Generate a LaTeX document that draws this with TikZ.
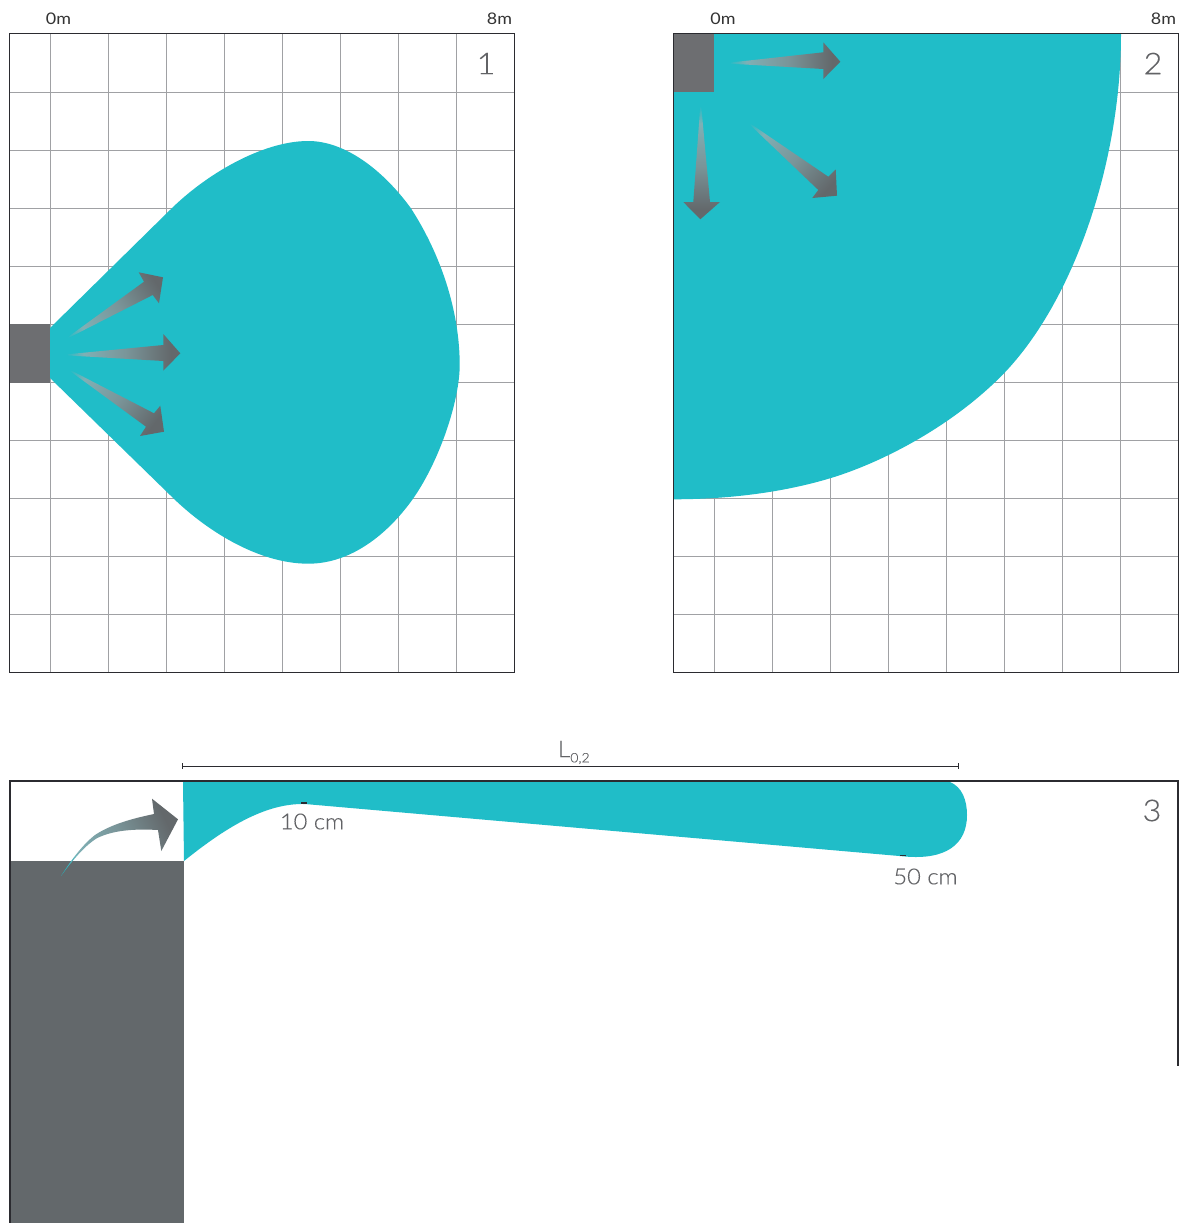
\documentclass[tikz,border=0pt]{standalone}
\usepackage{fontspec}
\setmainfont{Lato}
\newfontfamily\lightf[FakeStretch=1.08,FakeBold=0.25]{Lato Light}
\newfontfamily\regf[FakeStretch=1.12]{Lato}
\definecolor{teal1}{HTML}{20BDC8}
\definecolor{gray1}{HTML}{6D6E71}
\definecolor{gray2}{HTML}{63686B}
\definecolor{tmida}{HTML}{7FB0B5}
\definecolor{tmidb}{HTML}{7A9599}
\definecolor{gridc}{HTML}{A0A1A4}
\definecolor{framec}{HTML}{2B2B30}
\definecolor{txt}{HTML}{626366}
\pgfdeclarehorizontalshading{arrowgrad}{100bp}{color(0bp)=(teal1); color(27bp)=(teal1); color(33bp)=(tmida); color(47bp)=(tmidb); color(62bp)=(gray2); color(100bp)=(gray2)}
\newcommand{\gradarrow}[4]{%
  \begin{scope}
    \clip #1;
    \begin{scope}[transform canvas={shift={#2},rotate=#3}]
      \shade[shading=arrowgrad] (0,-90) rectangle (#4,90);
    \end{scope}
  \end{scope}}
\tikzset{
  gridline/.style={draw=gridc,line width=0.9pt},
  frameline/.style={draw=framec,line width=1pt},
  beam/.style={fill=teal1,draw=none},
  box/.style={fill=gray1,draw=none},
  scalelabel/.style={font=\regf\fontsize{16}{16}\selectfont,text=black!80,inner sep=0pt},
  panelno/.style={font=\lightf\fontsize{30}{30}\selectfont,text=txt,inner sep=0pt},
  dimlabel/.style={font=\lightf\fontsize{22}{22}\selectfont,text=txt,inner sep=0pt},
}
\begin{document}
\begin{tikzpicture}[x=1pt,y=-1pt]
\useasboundingbox (0,0) rectangle (1182,1223);
\fill[white] (0,0) rectangle (1182,1223);
% panel 1 grid
\foreach \x in {50,108,166,224,282,340,398.5,456.5}
  \draw[gridline] (\x,34) -- (\x,672.5);
\foreach \y in {92,150,208,266,324,382.5,440.5,498.5,556.5,614.5}
  \draw[gridline] (9,\y) -- (514.5,\y);
% panel 2 grid
\foreach \x in {714,772,830,888,946.5,1004.5,1062.5,1120.5}
  \draw[gridline] (\x,34) -- (\x,672.5);
\foreach \y in {92,150,208,266,324,382.5,440.5,498.5,556.5,614.5}
  \draw[gridline] (673,\y) -- (1178.5,\y);
% beam 1
\fill[beam] (50,328) -- (170,210)
  .. controls (205,175) and (262,141) .. (308.3,141)
  .. controls (345,141) and (383,170) .. (410.7,208)
  .. controls (440,253) and (459.7,310) .. (459.7,365)
  .. controls (459.7,400) and (440,460) .. (413.3,498.3)
  .. controls (389,532.8) and (352,563.7) .. (308.3,563.7)
  .. controls (258,563.7) and (205,530) .. (170,495)
  -- (50,378) -- cycle;
% beam 2
\fill[beam] (673,34) -- (1121,34)
  .. controls (1121,160) and (1075,299) .. (1004.3,373)
  .. controls (952,427) and (880,463.3) .. (830,478.3)
  .. controls (780,493.3) and (725,499.3) .. (673,499.3) -- cycle;
% boxes
\fill[box] (9,324) rectangle (50,382.5);
\fill[box] (673,34) rectangle (714,92);
% frames
\draw[frameline] (9,34) rectangle (514.5,672.5);
\draw[frameline] (673,34) rectangle (1178.5,672.5);
% arrows panel 1
\gradarrow{(60,355) -- (163.3,345) -- (163.3,334) -- (180.3,353.3) -- (163.3,370.7) -- (163.3,361) -- cycle}{(60,355)}{0.8}{150}
\gradarrow{(63,340.7) -- (144,281.7) -- (138.7,272.3) -- (163,277.3) -- (159,303.3) -- (152.7,295) -- cycle}{(63,340.7)}{32.4}{148}
\gradarrow{(65,367.3) -- (154,413.3) -- (160.3,405.7) -- (164,431.7) -- (140,436) -- (146,426.7) -- cycle}{(65,367.3)}{-36.5}{142}
% arrows panel 2
\gradarrow{(723.3,63.3) -- (823.3,52.3) -- (823.3,42.3) -- (840.3,61.7) -- (823.3,79) -- (823.3,69) -- cycle}{(723.3,63.3)}{0.8}{147}
\gradarrow{(700.7,100) -- (710,202) -- (720,202) -- (700.3,219.3) -- (683.3,202) -- (693.3,202) -- cycle}{(700.7,100)}{-90}{149}
\gradarrow{(745,120) -- (828.3,176.7) -- (835.7,169.3) -- (837,195.7) -- (812.3,198) -- (818.3,190) -- cycle}{(745,120)}{-42}{145}
% panel 3
\fill[gray2] (10,861) rectangle (184,1223);
\fill[beam] (183,782) -- (950,782)
  .. controls (962,787) and (967,800) .. (967,815)
  .. controls (967,845) and (945,860) .. (905,856.5)
  -- (305,804)
  .. controls (265,803) and (225,828) .. (184,861) -- cycle;
\draw[framec,line width=1.2pt] (304,803) ++(-3,0) -- ++(6,0);
\draw[framec,line width=1.2pt] (903,855.5) ++(-3,0) -- ++(6,0);
\draw[framec,line width=1.3pt] (10,1223) -- (10,781) -- (1178,781) -- (1178,1066);
\draw[framec,line width=0.9pt] (182,766) -- (958.5,766);
\draw[framec,line width=0.9pt] (182,763) -- (182,769);
\draw[framec,line width=0.9pt] (958.5,763) -- (958.5,769);
\gradarrow{(61,876) .. controls (70,862) and (82,845) .. (95,835) .. controls (110,825) and (130,819) .. (154,814) -- (152,798.7) -- (178,819.3) -- (161.3,851) -- (158,830) .. controls (140,829) and (115,829) .. (96.7,838.3) .. controls (86,845) and (74,858) .. (61,876) -- cycle}{(61,876)}{26}{160}
% labels
\node[scalelabel] (a0) at (58.5,19) {0m};
\node[scalelabel] (a8) at (499.5,19) {8m};
\node[scalelabel] (b0) at (723,19) {0m};
\node[scalelabel] (b8) at (1163.5,19) {8m};
\node[panelno] (n1) at (486,63.5) {1};
\node[panelno] (n2) at (1153,63.5) {2};
\node[panelno] (n3) at (1152,810.5) {3};
\node[dimlabel] (d10) at (312,821.5) {10 cm};
\node[dimlabel] (d50) at (925.5,876.5) {50 cm};
\node[inner sep=0pt,text=txt,font=\lightf\fontsize{23}{23}\selectfont] (lab) at (564,749) {L};
\node[inner sep=0pt,text=txt,font=\lightf\fontsize{13}{13}\selectfont] (sub) at (580,758.5) {0,2};
\end{tikzpicture}
\end{document}
